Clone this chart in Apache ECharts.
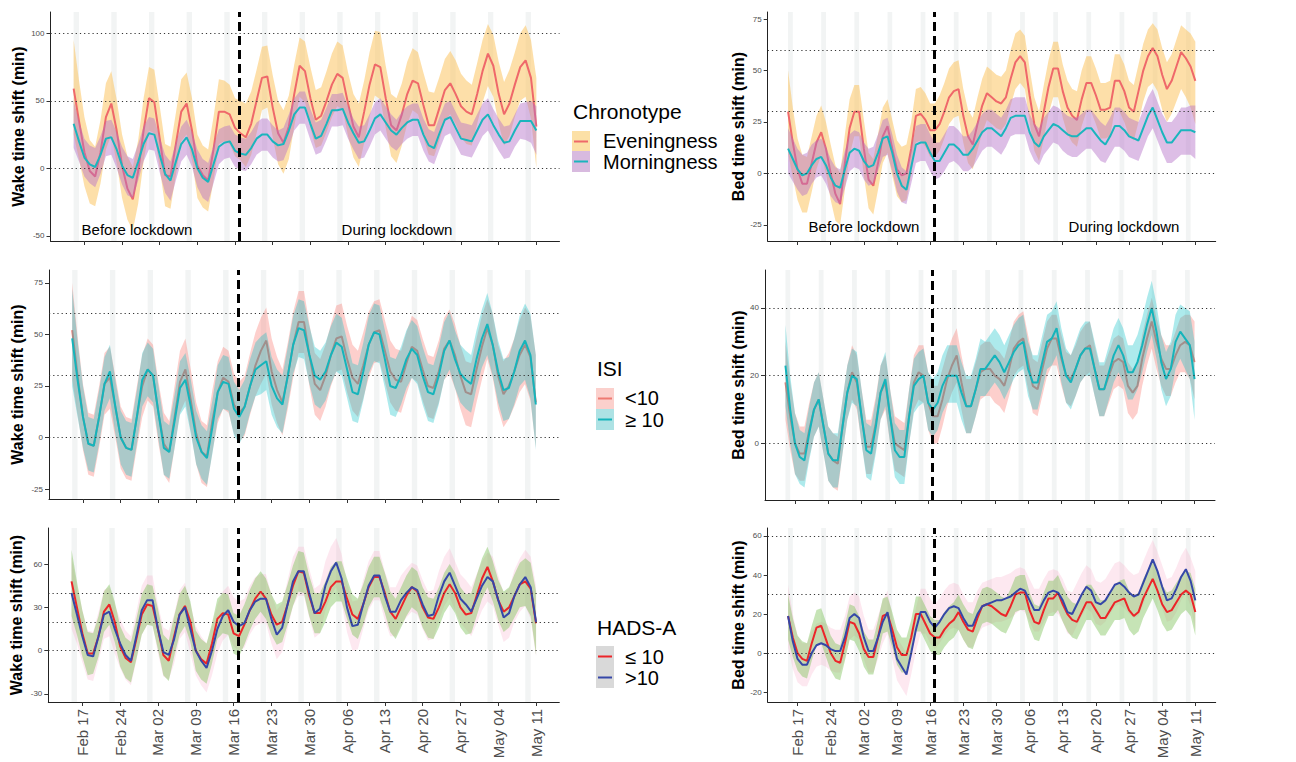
<!DOCTYPE html>
<html>
<head>
<meta charset="utf-8">
<script src="https://cdn.jsdelivr.net/npm/echarts@6.0.0/dist/echarts.min.js"></script>
<style>
  html, body { margin: 0; padding: 0; background: #fff; }
  #chart { width: 1296px; height: 762px; }
</style>
</head>
<body>
<div id="chart"></div>
<script>
// daily values, Sat 15 Feb 2020 .. Mon 11 May 2020 (87 days)
const firstDay = [2020, 1, 15]
const tickLabels = ['Feb 17', 'Feb 24', 'Mar 02', 'Mar 09', 'Mar 16', 'Mar 23', 'Mar 30', 'Apr 06', 'Apr 13', 'Apr 20', 'Apr 27', 'May 04', 'May 11']
const lockdownX = 30.8 // Mar 17

// Chronotype - wake
const p1Eve = [59,35,12,-2,-6,12,38, 48,28,2,-15,-23,-2,28, 52,49,22,-5,-6,18,42, 48,28,2,-5,-9,14,42, 42,40,30,26,23,33,50, 67,68,45,26,19,31,55, 76,72,52,36,39,50,62, 70,67,48,31,23,42,62, 77,75,52,32,28,40,55, 65,63,47,32,32,45,58, 63,55,46,42,40,55,72, 85,76,55,40,48,62,75, 80,67,31]
const p1EveHi = [95,65,38,21,16,36,63, 72,51,25,9,1,21,52, 75,73,46,18,16,41,66, 71,52,25,17,14,38,66, 65,62,52,50,48,57,73, 90,91,69,50,43,54,77, 97,94,75,58,60,72,85, 94,91,71,55,48,65,86, 102,101,76,55,52,63,79, 89,86,71,57,56,68,81, 87,80,70,65,62,78,95, 107,99,79,64,73,86,100, 106,95,67]
const p1EveLo = [25,7,-13,-26,-28,-11,14, 25,4,-22,-38,-46,-26,5, 28,26,0,-28,-30,-5,20, 25,6,-22,-29,-32,-9,18, 20,18,9,6,1,10,26, 43,45,23,3,-4,7,31, 53,49,30,15,17,27,38, 46,44,24,8,1,19,38, 54,51,30,9,4,17,33, 43,40,23,10,9,21,35, 40,33,23,18,17,33,49, 61,53,33,17,24,38,50, 53,37,0]
const p1Mor = [33,20,8,3,1,10,22, 23,14,2,-5,-7,5,18, 26,25,10,-4,-9,5,18, 23,14,0,-7,-10,3,16, 19,20,13,11,10,15,22, 25,25,20,17,18,28,40, 45,45,33,22,24,33,43, 43,44,34,26,19,20,28, 37,40,34,28,25,30,34, 36,36,25,17,15,26,36, 38,30,22,21,20,28,36, 40,32,25,19,20,28,35, 35,35,28]
const p1MorHi = [50,35,22,17,15,24,35, 36,27,16,9,7,18,31, 38,37,23,10,5,19,31, 36,27,14,7,4,17,29, 31,32,25,23,22,27,34, 37,37,32,28,30,40,52, 57,57,44,34,36,45,55, 55,56,46,37,31,32,40, 49,52,46,40,36,42,46, 48,48,37,29,27,38,48, 50,42,34,33,32,40,48, 52,44,37,31,32,40,48, 49,50,46]
const p1MorLo = [15,5,-6,-11,-14,-4,9, 10,0,-12,-20,-22,-9,5, 14,13,-3,-18,-24,-9,5, 10,1,-14,-22,-25,-11,3, 7,8,1,-1,-2,3,10, 13,13,8,5,6,16,28, 33,33,21,10,12,21,31, 31,32,22,14,7,8,16, 25,28,22,16,13,18,22, 24,24,13,5,3,14,24, 26,18,10,9,8,16,24, 28,20,13,7,8,16,22, 21,19,10]

// Chronotype - bed
const p2Eve = [30,15,2,-5,-5,5,15, 20,12,0,-10,-15,5,22, 30,30,12,-3,-6,5,18, 23,12,2,-1,0,12,28, 29,26,21,21,24,30,37, 40,41,28,18,14,24,33, 39,37,35,34,37,46,54, 57,54,38,24,18,30,42, 51,51,40,32,28,26,36, 44,44,38,31,31,32,45, 45,40,32,30,40,50,57, 61,57,48,41,45,52,59, 56,52,45]
const p2EveHi = [50,32,17,9,8,18,28, 33,25,14,4,0,19,36, 43,43,26,10,7,19,32, 36,26,16,13,14,25,41, 42,39,34,34,38,44,51, 54,55,41,31,27,37,46, 52,50,48,47,50,60,68, 70,67,51,37,30,43,55, 64,64,53,45,41,40,50, 57,57,51,44,44,45,58, 58,53,45,43,53,63,70, 73,70,61,54,58,65,72, 70,68,64]
const p2EveLo = [10,-2,-13,-19,-19,-9,2, 9,0,-13,-23,-25,-8,9, 18,18,-1,-17,-20,-8,5, 10,-1,-11,-14,-13,-1,15, 16,13,8,8,11,17,24, 27,28,15,5,2,11,20, 26,24,22,21,24,33,41, 44,41,25,11,6,17,29, 37,37,27,19,15,13,23, 30,30,24,17,17,18,31, 30,25,18,16,25,35,42, 44,40,31,25,29,35,41, 37,32,24]
const p2Mor = [12,7,2,-1,0,4,7, 8,4,-2,-6,-7,2,10, 12,11,6,3,4,10,17, 18,10,0,-6,-8,3,14, 15,15,10,6,6,10,14, 14,12,9,9,12,16,20, 22,22,20,18,22,27,28, 28,28,20,15,13,18,21, 24,23,21,19,18,18,20, 22,22,19,16,14,18,23, 23,21,18,17,16,22,28, 32,26,20,15,15,18,21, 21,21,20]
const p2MorHi = [22,17,12,9,10,14,16, 17,13,7,3,2,11,19, 21,20,15,12,13,19,26, 27,19,9,3,1,12,23, 24,24,19,15,15,19,23, 23,21,18,18,21,25,29, 31,31,29,27,31,36,37, 37,37,29,24,22,27,30, 33,32,30,28,27,27,29, 31,31,28,25,23,27,32, 32,30,27,26,25,31,37, 41,35,29,25,25,28,32, 32,33,33]
const p2MorLo = [0,-4,-8,-11,-10,-5,-2, -1,-5,-11,-14,-15,-7,1, 3,2,-3,-6,-5,1,8, 9,1,-9,-14,-15,-5,5, 6,6,1,-3,-2,1,5, 6,4,1,1,3,7,11, 13,13,11,9,13,18,19, 19,19,11,6,4,9,12, 15,14,11,9,8,8,10, 12,12,9,6,5,9,13, 13,11,8,7,6,12,18, 22,16,10,5,5,7,9, 9,9,7]

// ISI - wake
const p3Lo10 = [52,30,10,-3,-4,10,26, 29,15,0,-5,-6,10,25, 33,30,12,-3,-7,10,27, 33,18,2,-7,-9,8,22, 29,27,16,12,15,25,35, 42,47,32,23,17,30,45, 56,56,40,26,23,30,40, 48,49,38,29,26,35,45, 51,52,42,32,28,27,36, 44,42,33,25,24,32,43, 47,40,30,22,21,33,44, 53,45,30,21,25,32,40, 45,39,17]
const p3Lo10Hi = [75,49,26,12,11,25,41, 44,30,15,10,9,25,40, 48,45,27,12,8,25,42, 48,33,17,8,6,23,37, 44,42,31,27,30,41,51, 58,63,48,39,33,46,61, 71,71,55,41,38,45,55, 64,65,54,45,42,51,61, 66,67,57,47,43,42,51, 59,57,48,40,39,47,58, 62,55,45,37,36,48,59, 67,60,45,37,41,48,57, 63,59,40]
const p3Lo10Lo = [28,11,-6,-18,-19,-5,11, 14,0,-15,-20,-21,-5,10, 18,15,-3,-18,-22,-5,12, 18,3,-13,-22,-24,-7,7, 14,12,2,-2,1,11,20, 26,31,16,7,1,14,29, 41,41,25,11,8,15,25, 32,33,22,13,10,19,29, 36,37,27,17,13,12,21, 29,27,18,10,9,17,28, 31,24,14,6,5,17,28, 38,29,14,5,9,15,22, 26,18,-5]
const p3Hi10 = [48,28,10,-3,-4,10,26, 32,15,0,-5,-6,10,28, 33,30,12,-5,-7,8,24, 28,15,0,-7,-10,5,22, 27,26,14,10,15,25,33, 35,37,25,19,16,30,45, 53,52,40,30,28,32,40, 46,44,33,22,21,32,45, 51,50,38,25,24,30,38, 43,40,30,22,21,30,42, 47,38,31,28,26,38,48, 55,45,32,23,24,32,42, 47,40,16]
const p3Hi10Hi = [72,47,25,10,9,23,39, 45,28,13,8,7,23,41, 46,43,25,8,6,21,37, 41,28,13,6,3,18,35, 40,39,27,23,28,38,46, 49,51,39,33,30,44,59, 67,66,54,44,42,46,54, 60,58,47,36,35,46,59, 65,64,52,39,38,44,52, 57,54,44,36,35,44,56, 61,52,45,42,40,52,62, 70,60,47,38,39,48,59, 65,60,40]
const p3Hi10Lo = [25,10,-5,-16,-17,-3,13, 19,2,-13,-18,-19,-3,15, 20,17,-1,-18,-20,-5,11, 15,2,-13,-20,-23,-8,9, 14,13,1,-3,2,12,20, 21,23,11,5,2,16,31, 39,38,26,16,14,18,26, 32,30,19,8,7,18,31, 37,36,24,11,10,16,24, 29,26,16,8,7,16,28, 33,24,17,14,12,24,34, 40,30,17,8,9,16,25, 28,19,-6]

// ISI - bed
const p4Lo10 = [18,8,0,-3,-3,4,10, 13,5,-3,-5,-6,5,15, 21,18,8,-1,-1,6,15, 18,8,0,-1,-2,8,18, 21,20,12,8,8,13,19, 23,26,18,11,11,16,21, 22,22,20,19,17,22,28, 30,31,24,17,16,22,28, 31,31,25,20,19,22,26, 28,29,22,16,16,20,24, 25,24,17,15,17,25,31, 36,30,25,22,22,26,29, 30,29,24]
const p4Lo10Hi = [30,18,9,5,5,12,18, 21,13,5,3,2,13,23, 29,26,16,7,7,14,23, 26,16,8,7,6,16,26, 29,29,21,17,17,22,27, 31,34,26,19,19,24,29, 30,30,28,27,25,30,36, 38,39,32,25,24,30,36, 38,38,32,27,26,29,33, 35,36,29,23,23,27,31, 32,31,24,22,24,32,38, 43,37,32,29,29,33,37, 38,38,36]
const p4Lo10Lo = [7,-2,-9,-11,-11,-4,2, 5,-3,-11,-13,-14,-3,7, 13,10,0,-9,-9,-2,7, 10,0,-8,-9,-10,0,10, 13,12,4,0,0,5,11, 15,18,10,3,3,8,13, 14,14,12,11,9,14,20, 22,23,16,9,8,14,20, 23,23,17,12,11,14,18, 20,21,14,8,8,12,16, 17,16,9,7,9,17,23, 28,22,17,14,14,18,21, 21,19,13]
const p4Hi10 = [23,10,0,-4,-5,3,10, 13,5,-3,-5,-5,5,15, 20,19,8,-2,-3,5,15, 19,8,-2,-4,-4,8,17, 19,20,12,10,12,17,20, 20,20,15,11,11,16,22, 22,24,26,24,21,24,27, 29,30,22,18,18,24,30, 31,34,26,20,18,22,26, 28,28,22,16,16,21,26, 29,26,21,21,24,29,35, 40,33,24,19,22,30,33, 31,29,19]
const p4Hi10Hi = [35,20,9,4,3,11,18, 21,13,5,3,3,13,23, 28,27,16,6,5,13,23, 27,16,6,4,4,16,25, 27,28,21,19,21,26,29, 29,29,24,20,20,25,31, 30,32,34,32,29,32,35, 37,38,30,26,26,32,38, 39,42,34,28,26,30,34, 36,36,30,24,24,29,34, 37,34,29,29,32,37,43, 48,41,32,27,30,38,41, 40,39,30]
const p4Hi10Lo = [11,0,-9,-12,-13,-5,2, 5,-3,-11,-13,-13,-3,7, 12,11,0,-10,-11,-3,7, 11,0,-10,-12,-12,0,9, 11,12,4,2,4,9,12, 12,12,7,3,3,8,14, 14,16,18,16,13,16,19, 21,22,14,10,10,16,22, 23,26,18,12,10,14,18, 20,20,14,8,8,13,18, 21,18,13,13,16,21,27, 32,25,16,11,14,22,25, 22,19,7]

// HADS-A - wake
const p5Lo10 = [48,30,12,-2,-2,10,27, 32,20,3,-5,-8,8,25, 32,31,15,-3,-7,10,25, 31,20,0,-6,-9,5,22, 26,25,12,10,18,28,36, 41,36,25,18,20,32,45, 55,54,38,26,26,34,44, 48,48,36,25,22,32,44, 51,51,40,27,22,30,38, 44,41,30,23,22,30,40, 46,40,30,25,26,38,50, 58,48,35,27,30,38,46, 48,43,19]
const p5Lo10Hi = [70,48,28,13,12,24,41, 46,34,17,9,6,22,39, 46,45,29,11,7,24,39, 45,34,14,8,5,19,36, 40,39,26,24,32,42,50, 55,50,39,32,34,46,59, 69,68,52,40,40,48,58, 62,62,50,39,36,46,58, 65,65,54,41,36,44,52, 58,55,44,37,36,44,54, 60,54,44,39,40,52,64, 72,62,49,41,44,53,61, 64,61,41]
const p5Lo10Lo = [24,11,-4,-17,-16,-4,13, 18,6,-11,-19,-22,-6,11, 18,17,1,-17,-21,-4,11, 17,6,-14,-20,-23,-9,8, 12,11,-2,-4,4,14,22, 27,22,11,4,6,18,31, 41,40,24,12,12,20,30, 34,34,22,11,8,18,30, 37,37,26,13,8,16,24, 30,27,16,9,8,16,26, 32,26,16,11,12,24,36, 44,34,21,13,16,23,30, 31,24,-3]
const p5Hi10 = [40,25,10,-3,-4,10,25, 27,15,5,-3,-7,10,28, 35,35,15,-1,-3,8,25, 30,15,0,-7,-12,0,15, 24,28,20,17,19,28,34, 36,36,22,11,16,32,48, 55,55,40,26,29,45,55, 61,50,30,17,18,32,45, 52,52,38,27,27,35,40, 44,42,32,24,25,38,48, 54,45,36,32,27,36,45, 51,48,35,23,26,38,46, 51,44,20]
const p5Hi10Hi = [65,45,28,14,13,27,42, 44,32,22,14,10,27,45, 52,52,32,16,14,25,42, 47,32,17,10,5,17,32, 41,45,37,34,36,45,51, 53,53,39,28,33,49,65, 72,72,57,43,46,62,72, 78,67,47,34,35,49,62, 69,69,55,44,44,52,57, 61,59,49,41,42,55,65, 71,62,53,49,44,53,62, 68,65,52,40,43,56,64, 70,65,45]
const p5Hi10Lo = [15,5,-8,-20,-21,-7,8, 10,-2,-12,-20,-24,-7,11, 18,18,-2,-18,-20,-9,8, 13,-2,-17,-24,-29,-17,-2, 7,11,3,0,2,11,17, 19,19,5,-6,-1,15,31, 38,38,23,9,12,28,38, 44,33,13,0,1,15,28, 35,35,21,10,10,18,23, 27,25,15,7,8,21,31, 37,28,19,15,10,19,28, 34,31,18,6,9,20,27, 31,22,-4]

// HADS-A - bed
const p6Lo10 = [19,8,0,-3,-4,5,13, 14,7,0,-4,-5,5,16, 15,10,2,-2,-2,8,19, 20,12,3,-1,-1,8,20, 20,15,10,8,8,12,15, 17,21,16,12,11,18,24, 25,24,22,20,19,24,30, 31,31,22,16,15,22,28, 28,31,25,20,17,16,21, 26,26,22,18,18,22,26, 27,28,22,19,21,28,33, 38,32,25,21,22,26,30, 32,30,21]
const p6Lo10Hi = [30,18,9,6,5,14,22, 23,16,9,5,4,14,25, 24,19,11,7,7,17,28, 29,21,12,8,8,17,29, 29,24,19,17,17,21,24, 26,30,25,21,20,27,33, 34,33,31,29,28,33,39, 40,40,31,25,24,31,37, 37,40,34,29,26,25,30, 35,35,31,27,27,31,35, 37,38,32,29,31,38,43, 48,42,35,31,32,36,40, 42,41,33]
const p6Lo10Lo = [7,-2,-9,-12,-13,-4,4, 5,-2,-9,-13,-14,-4,7, 6,1,-7,-11,-11,-1,10, 11,3,-6,-10,-10,-1,11, 11,6,1,-1,-1,3,6, 8,12,7,3,2,9,15, 16,15,13,11,10,15,21, 22,22,13,7,6,13,19, 19,22,16,11,8,7,12, 17,17,13,9,9,13,17, 17,18,12,9,11,18,23, 28,22,15,11,12,16,20, 22,19,9]
const p6Hi10 = [19,6,-3,-6,-6,0,4, 5,4,2,1,1,8,18, 20,18,8,1,1,8,16, 21,8,-3,-7,-11,0,12, 21,21,16,13,16,20,23, 24,23,18,14,14,20,24, 25,26,27,27,28,29,31, 33,32,27,22,22,27,31, 32,31,27,21,20,25,30, 34,32,26,25,27,31,35, 36,34,31,29,30,36,42, 48,42,34,27,28,33,39, 43,37,27]
const p6Hi10Hi = [35,20,9,5,5,11,15, 16,15,13,12,12,19,29, 31,29,19,12,12,19,27, 32,19,8,4,0,11,23, 33,33,28,25,28,32,35, 36,35,30,26,26,32,36, 37,38,39,39,40,41,43, 44,43,38,33,33,38,42, 43,42,38,32,31,36,41, 45,43,37,36,38,42,46, 47,45,42,40,41,47,53, 58,52,45,38,39,44,50, 54,49,42]
const p6Hi10Lo = [3,-8,-15,-17,-17,-11,-7, -6,-7,-9,-10,-10,-3,7, 9,7,-3,-10,-10,-3,5, 10,-3,-14,-18,-22,-11,1, 10,10,5,2,5,9,12, 13,12,7,3,3,9,13, 14,15,16,16,17,18,20, 22,21,16,11,11,16,20, 21,20,16,10,9,14,19, 23,21,15,14,16,20,24, 25,23,20,18,19,25,31, 37,31,23,16,17,21,27, 31,24,12]

const yTicks = [[-50, 0, 50, 100], [-25, 0, 25, 50, 75], [-25, 0, 25, 50, 75], [0, 20, 40], [-30, 0, 30, 60], [-20, 0, 20, 40, 60]]
const refLines = [[0, 50, 100], [0, 30, 60], [0, 30, 60], [0, 20, 40], [0, 20, 40], [0, 30, 60]]

const FONT = 'Liberation Sans, Arial, sans-serif'
const c = {
  eve: '#EF686A', eveBand: 'rgba(252,196,98,0.55)',
  mor: '#1BB5BD', morBand: 'rgba(180,110,200,0.45)',
  isiLo: '#EE7A72', isiLoBand: 'rgba(248,118,109,0.35)',
  isiHi: '#15B4BB', isiHiBand: 'rgba(0,191,196,0.32)',
  hadLo: '#EC2529', hadLoBand: 'rgba(120,190,80,0.42)',
  hadHi: '#3547A8', hadHiBand: 'rgba(245,150,185,0.22)'
}

// days of the study period
const nDays = p1Eve.length
const saturdays = []
const mondays = []
for (let k = 0; k < nDays; k++) {
  const d = new Date(firstDay[0], firstDay[1], firstDay[2] + k)
  if (d.getDay() === 6) saturdays.push(k)
  if (d.getDay() === 1) mondays.push(k)
}

const layout = [
  { left: 50.5, top: 12, width: 509, height: 229 },
  { left: 767.7, top: 12, width: 448, height: 229 },
  { left: 49, top: 270, width: 510, height: 229 },
  { left: 765, top: 270, width: 450, height: 230 },
  { left: 48.3, top: 528, width: 511, height: 174 },
  { left: 767.7, top: 528, width: 448, height: 174 }
]
const yRange = [[-53.8, 115.8], [-32.9, 78.5], [-29.8, 81.2], [-16.7, 51.2], [-35.6, 85], [-25.1, 64.1]]

const panels = [
  [['band', p1EveLo, p1EveHi, c.eveBand], ['line', p1Eve, c.eve], ['band', p1MorLo, p1MorHi, c.morBand], ['line', p1Mor, c.mor]],
  [['band', p2EveLo, p2EveHi, c.eveBand], ['line', p2Eve, c.eve], ['band', p2MorLo, p2MorHi, c.morBand], ['line', p2Mor, c.mor]],
  [['band', p3Lo10Lo, p3Lo10Hi, c.isiLoBand], ['line', p3Lo10, c.isiLo], ['band', p3Hi10Lo, p3Hi10Hi, c.isiHiBand], ['line', p3Hi10, c.isiHi]],
  [['band', p4Lo10Lo, p4Lo10Hi, c.isiLoBand], ['line', p4Lo10, c.isiLo], ['band', p4Hi10Lo, p4Hi10Hi, c.isiHiBand], ['line', p4Hi10, c.isiHi]],
  [['band', p5Hi10Lo, p5Hi10Hi, c.hadHiBand], ['band', p5Lo10Lo, p5Lo10Hi, c.hadLoBand], ['line', p5Lo10, c.hadLo], ['line', p5Hi10, c.hadHi]],
  [['band', p6Hi10Lo, p6Hi10Hi, c.hadHiBand], ['band', p6Lo10Lo, p6Lo10Hi, c.hadLoBand], ['line', p6Lo10, c.hadLo], ['line', p6Hi10, c.hadHi]]
]

function stripeSeries (i) {
  return {
    type: 'custom', xAxisIndex: i, yAxisIndex: i, z: 1, silent: true,
    data: saturdays.map(k => [k, 0]),
    encode: { x: 0, y: 1 },
    renderItem (params, api) {
      const a = api.coord([api.value(0), 0])
      const b = api.coord([api.value(0) + 1, 0])
      const cs = params.coordSys
      return { type: 'rect', shape: { x: a[0], y: cs.y, width: b[0] - a[0], height: cs.height }, style: { fill: '#F2F4F4' } }
    }
  }
}

function bandSeries (i, lo, hi, color, z) {
  return {
    type: 'custom', xAxisIndex: i, yAxisIndex: i, z, silent: true,
    data: lo.map((v, k) => [k, v, hi[k]]),
    encode: { x: 0, y: [1, 2] },
    renderItem (params, api) {
      if (params.dataIndex !== 0) return null
      const upper = hi.map((v, k) => api.coord([k, v]))
      const lower = lo.map((v, k) => api.coord([k, v])).reverse()
      return { type: 'polygon', shape: { points: upper.concat(lower) }, style: { fill: color } }
    }
  }
}

function lineSeries (i, vals, color, z) {
  return {
    type: 'line', xAxisIndex: i, yAxisIndex: i, z, silent: true,
    showSymbol: false, symbol: 'none',
    data: vals.map((v, k) => [k, v]),
    lineStyle: { color, width: 2 },
    itemStyle: { color }
  }
}

function refSeries (i) {
  return {
    type: 'line', xAxisIndex: i, yAxisIndex: i, data: [], silent: true,
    markLine: {
      z: 10, silent: true, symbol: ['none', 'none'], label: { show: false }, animation: false,
      data: refLines[i].map(v => ({ yAxis: v, lineStyle: { color: '#333', width: 1.1, type: [1.2, 3] } }))
        .concat([{ xAxis: lockdownX, lineStyle: { color: '#000', width: 3, type: [9, 5] } }])
    }
  }
}

const series = []
panels.forEach((layers, i) => {
  series.push(stripeSeries(i))
  layers.forEach((l, j) => {
    if (l[0] === 'band') series.push(bandSeries(i, l[1], l[2], l[3], 2 + j))
    else series.push(lineSeries(i, l[1], l[2], 2 + j))
  })
  series.push(refSeries(i))
})

function txt (text, x, y, size) {
  return {
    type: 'text', x, y, z: 100, silent: true,
    style: { text, fill: '#000', font: size + 'px ' + FONT, align: 'left', verticalAlign: 'middle', textAlign: 'left', textVerticalAlign: 'middle' }
  }
}
function key (x, y, fill, stroke) {
  return [
    { type: 'rect', z: 100, silent: true, shape: { x, y, width: 18, height: 21 }, style: { fill } },
    { type: 'line', z: 101, silent: true, shape: { x1: x + 2, y1: y + 10.5, x2: x + 16, y2: y + 10.5 }, style: { stroke, lineWidth: 2 } }
  ]
}
function centered (text, x, y) {
  const t = txt(text, x, y, 15)
  t.style.align = 'center'
  t.style.textAlign = 'center'
  return t
}

const graphic = [
  txt('Chronotype', 573, 111, 21),
  ...key(572, 131, '#FCE0A6', c.eve), ...key(572, 151, '#D8BADF', c.mor),
  txt('Eveningness', 603, 141, 20), txt('Morningness', 603, 162, 20),
  txt('ISI', 597, 368, 21),
  ...key(596, 388, '#FBD0CC', c.isiLo), ...key(596, 409, '#ADE2E4', c.isiHi),
  txt('<10', 625, 398, 20), txt('≥ 10', 625, 420, 20),
  txt('HADS-A', 597, 627, 21),
  ...key(596, 646, '#D9D9D9', c.hadLo), ...key(596, 667, '#D9D9D9', c.hadHi),
  txt('≤ 10', 625, 657, 20), txt('>10', 625, 678, 20),
  centered('Before lockdown', 137, 229), centered('During lockdown', 397, 229),
  centered('Before lockdown', 864, 226), centered('During lockdown', 1124, 226)
]

const option = {
  animation: false,
  grid: layout.map(g => Object.assign({ containLabel: false }, g)),
  xAxis: layout.map((g, i) => ({
    type: 'value', gridIndex: i, min: -4.3, max: 90.3,
    axisLine: { show: true, onZero: false, lineStyle: { color: '#222', width: 1 } },
    axisTick: { show: true, length: 4, lineStyle: { color: '#333' }, customValues: mondays },
    axisLabel: {
      show: i >= 4, customValues: mondays, rotate: 90, margin: 7, fontSize: 15,
      color: '#4D4D4D', fontFamily: FONT,
      formatter: v => tickLabels[mondays.indexOf(v)]
    },
    splitLine: { show: false }
  })),
  yAxis: layout.map((g, i) => ({
    type: 'value', gridIndex: i, min: yRange[i][0], max: yRange[i][1],
    axisLine: { show: true, onZero: false, lineStyle: { color: '#222', width: 1 } },
    axisTick: { show: true, length: 4, lineStyle: { color: '#333' }, customValues: yTicks[i] },
    axisLabel: { customValues: yTicks[i], margin: 6, fontSize: 8, color: '#4D4D4D', fontFamily: FONT },
    splitLine: { show: false },
    name: i % 2 ? 'Bed time shift (min)' : 'Wake time shift (min)',
    nameLocation: 'middle', nameGap: i % 2 ? 17 : 24,
    nameTextStyle: { fontSize: 16, fontWeight: 'bold', color: '#000', fontFamily: FONT }
  })),
  series,
  graphic
}

const chart = echarts.init(document.getElementById('chart'), null, { renderer: 'svg' })
chart.setOption(option)
</script>
</body>
</html>
